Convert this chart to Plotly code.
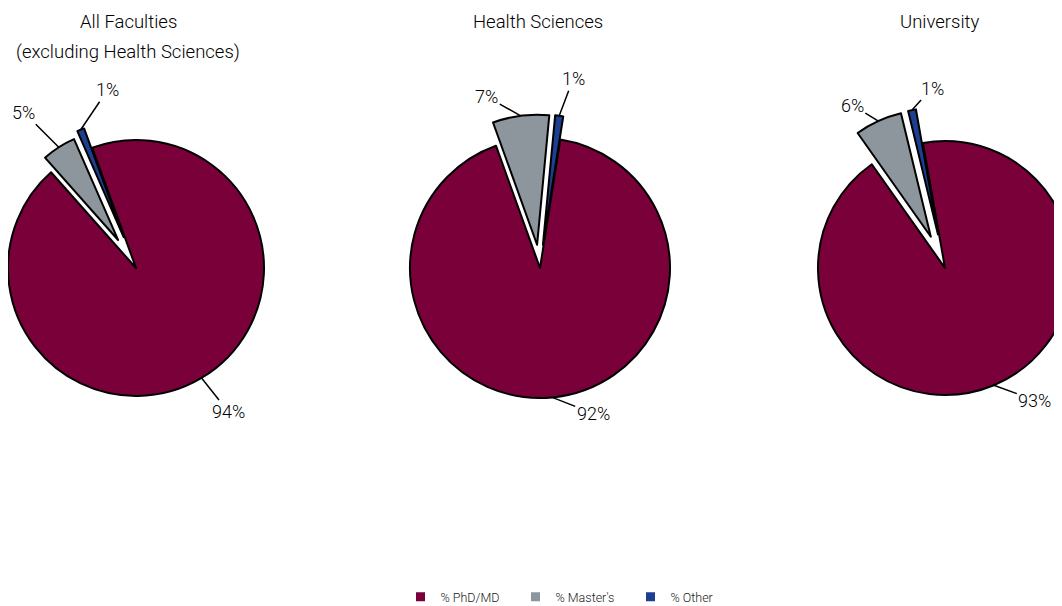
import numpy as np
import plotly.graph_objects as go

# data
labels = ["% PhD/MD", "% Master's", "% Other"]
titles = ["All Faculties<br>(excluding Health Sciences)", "Health Sciences", "University"]
all_faculties = [94, 5, 1]
health_sciences = [92, 7, 1]
university = [93, 6, 1]
pie_values = [all_faculties, health_sciences, university]

colors = ["#7A003A", "#8D969C", "#1E3E91"]
FONT = "Roboto, Liberation Sans, Arial, sans-serif"

# the page body adds an 8px margin, so the figure is a bit wider than the window
W, H = 1110, 598

# pie layout (figure pixels): centre, radius, first-slice angle, explosion per slice
centre_x = [128, 532, 937]
centre_y = 260
radius = [128, 130, 127]
rotation = [-20, 9, -10]
explode = [[0, 0.26, 0.26], [0, 0.18, 0.18], [0, 0.27, 0.27]]
title_x = [120, 530, 932]
title_y = [14, 44]
# label offset (px) from the slice's outer arc point to the label centre
label_shift = [
    [(27, 34), (-35, -35), (27, -40)],
    [(41, 16), (-34, -19), (14, -37)],
    [(41, 15), (-26, -16), (20, -22)],
]

CLEAR = "rgba(0,0,0,0)"

fig = go.Figure()
annotations = []

for p, values in enumerate(pie_values):
    total = float(sum(values))
    edges = rotation[p] + 360 * np.cumsum([0] + values) / total
    mids = np.radians((edges[:-1] + edges[1:]) / 2)
    cx, cy, R = centre_x[p], centre_y, radius[p]
    for i in range(len(values)):
        # explode the slice by moving its own pie along the slice's mid angle
        off = explode[p][i] * R
        sx = cx + off * np.sin(mids[i])
        sy = cy - off * np.cos(mids[i])
        r = min(R, sx, W - sx, sy, H - sy)
        fig.add_trace(go.Pie(
            values=values,
            labels=labels,
            sort=False,
            direction="clockwise",
            rotation=rotation[p],
            marker=dict(
                colors=[colors[j] if j == i else CLEAR for j in range(len(values))],
                line=dict(color=["black" if j == i else CLEAR for j in range(len(values))],
                          width=[2 if j == i else 0 for j in range(len(values))]),
            ),
            textinfo="none",
            hoverinfo="label+percent",
            showlegend=False,
            domain=dict(
                x=[max(0, (sx - r) / W), min(1, (sx + r) / W)],
                y=[max(0, 1 - (sy + r) / H), min(1, 1 - (sy - r) / H)],
            ),
        ))
        # percentage label with a leader line to the slice edge
        px = sx + r * np.sin(mids[i])
        py = sy - r * np.cos(mids[i])
        dx, dy = label_shift[p][i]
        annotations.append(dict(
            x=px / W, y=1 - py / H, xref="paper", yref="paper",
            text=f"{round(100 * values[i] / total)}%",
            showarrow=True, arrowhead=0, arrowwidth=1.5, arrowcolor="black",
            ax=dx, ay=dy, standoff=0,
            font=dict(family=FONT, size=18, color="#000000", weight=300),
        ))
    for k, line in enumerate(titles[p].split("<br>")):
        annotations.append(dict(
            x=title_x[p] / W, y=1 - title_y[k] / H, xref="paper", yref="paper",
            xanchor="center", yanchor="middle", showarrow=False,
            text=line, font=dict(family=FONT, size=18.5, color="#000000", weight=300),
        ))

# legend entries
for lab, col in zip(labels, colors):
    fig.add_trace(go.Scatter(
        x=[None], y=[None], mode="markers", name=lab,
        marker=dict(symbol="square", size=9, color=col),
    ))

fig.update_layout(
    width=W, height=H, autosize=False,
    margin=dict(l=0, r=0, t=0, b=0, autoexpand=False),
    paper_bgcolor="white", plot_bgcolor="white",
    xaxis=dict(visible=False), yaxis=dict(visible=False),
    annotations=annotations,
    showlegend=True,
    legend=dict(
        orientation="h", x=0.5 + 10 / W, xanchor="center", y=-6 / H, yanchor="bottom",
        font=dict(family=FONT, size=12.5, color="#1a1a1a", weight=300),
        entrywidth=70, entrywidthmode="pixels",
    ),
    font=dict(family=FONT),
)

fig.write_html("out.html")
